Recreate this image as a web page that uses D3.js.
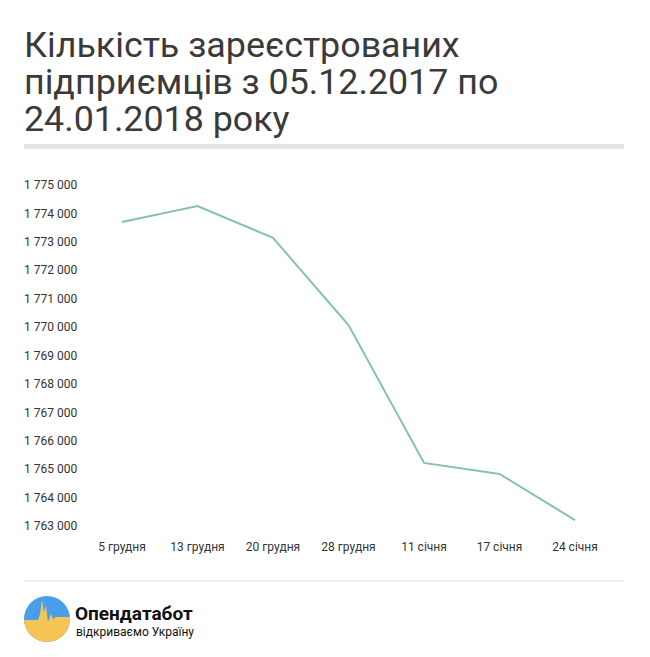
<!DOCTYPE html>
<html><head><meta charset="utf-8">
<script src="https://cdn.jsdelivr.net/npm/d3@7"></script>
<style>body{margin:0;background:#fff}</style>
</head><body>
<svg id="chart" width="650" height="657"></svg>
<script>
const categories = ['5 грудня', '13 грудня', '20 грудня', '28 грудня', '11 січня', '17 січня', '24 січня'];
const values = [1773700, 1774260, 1773140, 1770070, 1765220, 1764830, 1763210];
const yTicks = d3.range(1763000, 1775001, 1000);
const titleLines = ['Кількість зареєстрованих', 'підприємців з 05.12.2017 по', '24.01.2018 року'];

const svg = d3.select('#chart');
const font = 'Roboto, sans-serif';

svg.append('text')
  .attr('font-family', font).attr('font-size', 35.8).attr('fill', '#3a3a3a')
  .selectAll('tspan').data(titleLines).join('tspan')
    .attr('x', 24).attr('y', (d, i) => 57 + i * 37).text(d => d);

svg.append('rect').attr('x', 24).attr('y', 144).attr('width', 600).attr('height', 5).attr('fill', '#e6e6e6');

const x = d3.scalePoint().domain(categories).range([122, 575]);
const y = d3.scaleLinear().domain([1763000, 1775000]).range([526, 185]);
const fmt = v => d3.format(',')(v).replace(/,/g, ' ');

svg.append('g').selectAll('text').data(yTicks).join('text')
  .attr('x', 24).attr('y', d => y(d)).attr('dy', '0.35em')
  .attr('font-family', font).attr('font-size', 12).attr('fill', '#333')
  .text(fmt);

svg.append('g').selectAll('text').data(categories).join('text')
  .attr('x', d => x(d)).attr('y', 551).attr('text-anchor', 'middle')
  .attr('font-family', font).attr('font-size', 12).attr('fill', '#333')
  .text(d => d);

svg.append('path')
  .datum(values)
  .attr('fill', 'none').attr('stroke', '#86c2a8').attr('stroke-width', 2)
  .attr('d', d3.line().x((d, i) => x(categories[i])).y(d => y(d)));

svg.append('line').attr('x1', 24).attr('x2', 624).attr('y1', 581).attr('y2', 581)
  .attr('stroke', '#e3e3e3').attr('stroke-width', 1);

// logo
const clip = svg.append('clipPath').attr('id', 'lc');
clip.append('circle').attr('cx', 47).attr('cy', 619).attr('r', 23);
const lg = svg.append('g').attr('clip-path', 'url(#lc)');
lg.append('rect').attr('x', 24).attr('y', 596).attr('width', 46).attr('height', 46).attr('fill', '#4a9de8');
lg.append('path').attr('fill', '#f6c453')
  .attr('d', 'M24,620 L38,620 L40,614 L42,600 L44,612 L46,606 L48,622 L51,614 L53,619 L56,617 L70,617 L70,642 L24,642 Z');
svg.append('text').attr('x', 75).attr('y', 620).attr('font-family', font).attr('font-weight', 'bold')
  .attr('font-size', 19).attr('fill', '#111').text('Опендатабот');
svg.append('text').attr('x', 76).attr('y', 636).attr('font-family', font)
  .attr('font-size', 12).attr('fill', '#111').text('відкриваємо Україну');
</script>
</body></html>
